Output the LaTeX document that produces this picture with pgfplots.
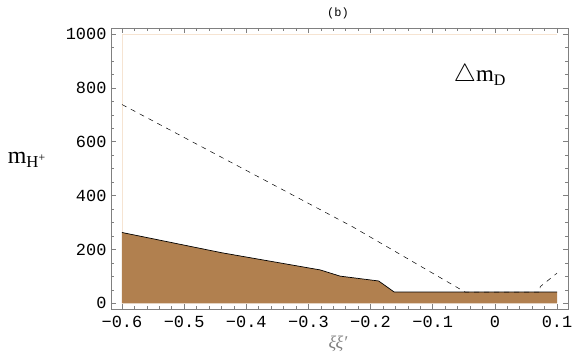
\documentclass[border=0pt]{standalone}
\usepackage{fontspec}
\setmainfont{Liberation Serif}
\newfontfamily\mono{Liberation Mono}
\usepackage{pgfplots}
\pgfplotsset{compat=1.18}
\definecolor{fillbrown}{RGB}{177,128,79}
\definecolor{peach}{RGB}{246,228,210}
\begin{document}
\begin{tikzpicture}
\path[use as bounding box] (-111bp,-47bp) rectangle (465bp,309bp);
\begin{axis}[
  at={(0,0)}, anchor=south west,
  scale only axis, width=457bp, height=281bp,
  xmin=-0.6177, xmax=0.1177, ymin=-21, ymax=1022,
  xtick={-0.6,-0.5,-0.4,-0.3,-0.2,-0.1,0,0.1},
  xticklabels={−0.6,−0.5,−0.4,−0.3,−0.2,−0.1,0,0.1},
  ytick={0,200,400,600,800,1000},
  yticklabels={0,200,400,600,800,1000},
  minor x tick num=4, minor y tick num=3,
  major tick length=5bp, minor tick length=3bp,
  tick style={gray, line width=0.5pt},
  axis line style={gray, line width=0.7pt},
  ticklabel style={font=\mono\fontsize{17}{17}\selectfont, text=black},
  xticklabel style={yshift=-4bp},
  yticklabel style={xshift=-1bp},
  axis on top,
]
  \addplot[peach, line width=0.6pt] coordinates {(-0.6,0) (-0.6,1000) (0.1,1000)};
  \addplot[fill=fillbrown, draw=none] coordinates {
    (-0.6,0) (-0.6,263) (-0.44,188) (-0.281,124) (-0.249,101) (-0.187,83)
    (-0.162,42) (0.1,42) (0.1,0)} \closedcycle;
  \addplot[black, line width=0.7pt] coordinates {
    (-0.6,263) (-0.44,188) (-0.281,124) (-0.249,101) (-0.187,83)
    (-0.162,42) (0.1,42)};
  \addplot[black, line width=0.5pt, dash pattern=on 5bp off 5bp] coordinates {
    (-0.6,738) (-0.228,283) (-0.048,42) (0.073,42) (0.073,62) (0.1,112)};
  \node[font=\fontsize{23}{23}\selectfont] at (axis cs:-0.024,847) {$\triangle$m\textsubscript{D}};
\end{axis}
\node[font=\fontsize{24}{24}\selectfont] at (-84bp,149bp) {m\textsubscript{H\textsuperscript{+}}};
\node[font=\mono\fontsize{12}{12}\selectfont] at (227bp,296bp) {(b)};
\node[font=\itshape\fontsize{18}{18}\selectfont, text=gray] at (227bp,-35bp) {ξξ′};
\end{tikzpicture}
\end{document}
